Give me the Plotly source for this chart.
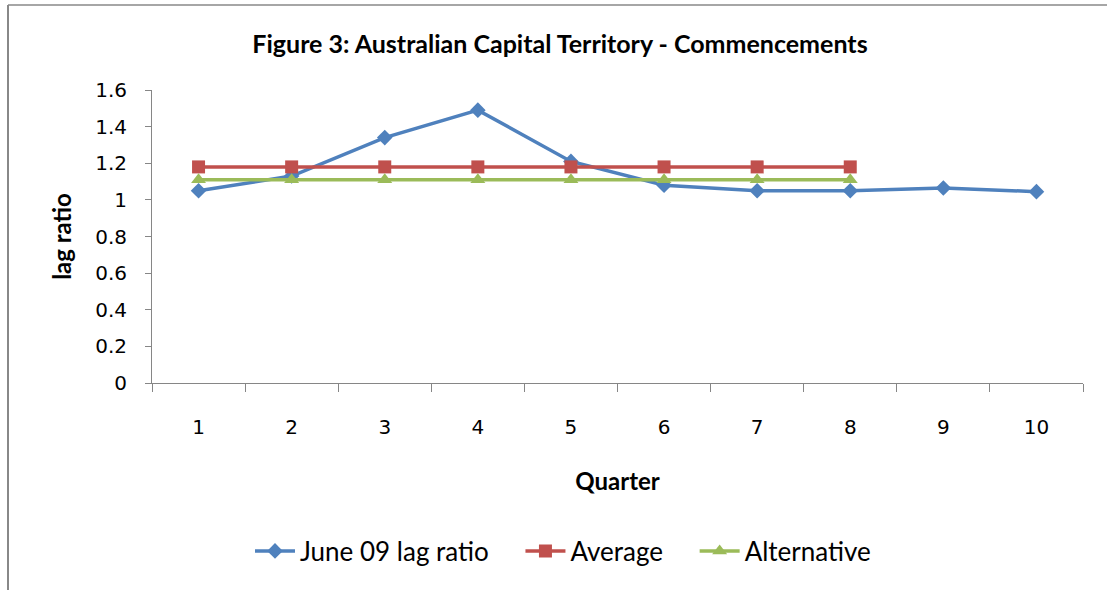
import plotly.graph_objects as go

quarters = [1, 2, 3, 4, 5, 6, 7, 8, 9, 10]
june09_lag_ratio = [1.05, 1.13, 1.34, 1.49, 1.21, 1.08, 1.05, 1.05, 1.065, 1.045]
avg_quarters = [1, 2, 3, 4, 5, 6, 7, 8]
average = [1.18] * 8
alternative = [1.11] * 8
y_ticks = [0, 0.2, 0.4, 0.6, 0.8, 1, 1.2, 1.4, 1.6]
series_names = ["June 09 lag ratio", "Average", "Alternative"]

W, H = 1107, 590
L, R, T, B = 152, 24, 90, 207
pw, ph = W - L - R, H - T - B

TXT = "Lato"
PAD = "\u00a0\u00a0\u00a0\u00a0"
fig = go.Figure()
fig.add_trace(go.Scatter(x=quarters, y=june09_lag_ratio, name=series_names[0] + PAD,
                         mode="lines+markers", line=dict(color="#4F81BD", width=3.5),
                         marker=dict(symbol="diamond", size=12, color="#4F81BD")))
fig.add_trace(go.Scatter(x=avg_quarters, y=average, name=series_names[1] + PAD,
                         mode="lines+markers", line=dict(color="#C0504D", width=3.5),
                         marker=dict(symbol="square", size=13, color="#C0504D")))
fig.add_trace(go.Scatter(x=avg_quarters, y=alternative, name=series_names[2],
                         mode="lines+markers", line=dict(color="#9BBB59", width=3.5),
                         marker=dict(symbol="triangle-up", size=13, color="#9BBB59")))

fig.update_layout(
    width=W, height=H,
    margin=dict(l=L, r=R, t=T, b=B, pad=0, autoexpand=False),
    paper_bgcolor="white", plot_bgcolor="white",
    title=dict(text="<b>Figure 3: Australian Capital Territory - Commencements</b>",
               x=560 / W, xanchor="center", y=1 - 44 / H, yanchor="middle",
               yref="container", xref="container",
               font=dict(family=TXT, size=25, color="#000000")),
    xaxis=dict(type="category", range=[-0.5, 9.5], tickson="boundaries",
               showline=True, linecolor="#868686", linewidth=1,
               ticks="outside", ticklen=8, tickcolor="#868686",
               showgrid=False, zeroline=False, automargin=False,
               ticklabelstandoff=26,
               tickfont=dict(family="DejaVu Sans", size=20, color="#000000"),
               title=dict(text="<b>Quarter</b>", standoff=35,
                          font=dict(family=TXT, size=24, color="#000000"))),
    yaxis=dict(range=[0, 1.6], tickvals=y_ticks, ticktext=[str(v) for v in y_ticks],
               showline=True, linecolor="#868686", linewidth=1,
               ticks="outside", ticklen=6, tickcolor="#868686",
               showgrid=False, zeroline=False, automargin=False,
               ticklabelstandoff=14,
               tickfont=dict(family="DejaVu Sans", size=20, color="#000000"),
               title=dict(text="<b>lag ratio</b>", standoff=16,
                          font=dict(family=TXT, size=24, color="#000000"))),
    legend=dict(orientation="h", x=563 / W, xanchor="center",
                y=1 - 551 / H, yanchor="middle",
                xref="container", yref="container",
                font=dict(family=TXT, size=26, color="#000000"),
                itemwidth=40, bgcolor="rgba(0,0,0,0)"),
    showlegend=True,
)

# chart border (left and top edges)
x_left = (8 - L) / pw
y_top = (H - B - 5) / ph
fig.add_shape(type="line", xref="paper", yref="paper", x0=x_left, x1=x_left,
              y0=y_top, y1=-(H - (T + ph)) / ph, line=dict(color="#888888", width=2))
fig.add_shape(type="line", xref="paper", yref="paper", x0=x_left, x1=(W - L) / pw,
              y0=y_top, y1=y_top, line=dict(color="#888888", width=1.5))

fig.write_html("out.html", config={"displayModeBar": False},
               post_script="document.body.style.margin='0px';document.body.style.overflow='hidden';")
